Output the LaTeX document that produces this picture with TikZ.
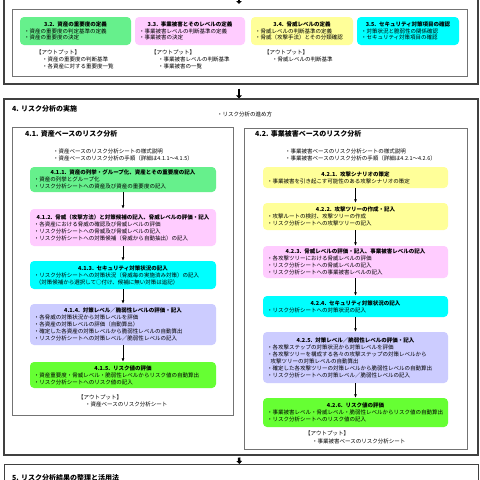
\documentclass[tikz,border=0pt]{standalone}
\usepackage{fontspec}
\setmainfont{Noto Sans CJK JP}
\usetikzlibrary{arrows.meta}
\definecolor{cgreen}{HTML}{66F08C}
\definecolor{cpink}{HTML}{FFCCFF}
\definecolor{cyellow}{HTML}{FFFF99}
\definecolor{ccyan}{HTML}{00FFFF}
\definecolor{clav}{HTML}{CCCCFF}
\definecolor{clime}{HTML}{66FF33}
\newcommand\sttl[1]{{\centering\bfseries #1\par}}
\begin{document}
\begin{tikzpicture}[x=1pt,y=-1pt,
  frame/.style={draw=black!75, line width=1.1pt, fill=white, inner sep=0pt},
  panel/.style={draw=black!55, line width=0.8pt, fill=white, inner sep=0pt},
  stage/.style={rounded corners=4pt, inner xsep=4pt, inner ysep=1pt, align=left, font=\fontsize{5.5}{7}\selectfont},
  stage3/.style={stage, font=\fontsize{5.5}{6.5}\selectfont},
  note/.style={anchor=west, inner sep=0pt, font=\fontsize{5.5}{7}\selectfont},
  head/.style={anchor=west, inner sep=0pt, font=\fontsize{7}{8}\selectfont\bfseries},
  flow/.style={-{Latex[length=3.5pt,width=3pt]}, line width=0.8pt},
  bigflow/.style={-{Triangle[length=3pt,width=5.5pt]}, line width=2.5pt}]
\useasboundingbox (0,0) rectangle (480,480);
\clip (0,0) rectangle (480,480);
% frames
\node[frame, minimum width=474pt, minimum height=94pt] (f3) at (241,37) {};
\node[frame, minimum width=474pt, minimum height=356pt] (f4) at (241,277) {};
\node[frame, minimum width=474pt, minimum height=60pt, anchor=north west] (f5) at (4,464) {};
\coordinate (prev) at (239,-20);
\draw[bigflow] (prev) -- (239,4);
\draw[bigflow] ([xshift=-2pt,yshift=-4pt]f3.south) -- ([xshift=-2pt]f4.north);
\draw[bigflow] ([xshift=-2pt,yshift=-2pt]f4.south) -- ([xshift=-2pt]f5.north);
% section 3
\node[panel, minimum width=455pt, minimum height=67pt, anchor=north west] (p3) at (12,9) {};
\node[stage3, fill=cgreen, text width=103pt, minimum height=28pt] (s32) at (75.5,31)
  {\sttl{3.2. 資産の重要度の定義}・資産の重要度の判定基準の定義\\・資産の重要度の決定};
\node[stage3, fill=cpink, text width=102pt, minimum height=28pt] (s33) at (190,31)
  {\sttl{3.3. 事業被害とそのレベルの定義}・事業被害レベルの判断基準の定義\\・事業被害の決定};
\node[stage3, fill=cyellow, text width=94pt, minimum height=28pt] (s34) at (302,31)
  {\sttl{3.4. 脅威レベルの定義}・脅威レベルの判断基準の定義\\・脅威（攻撃手法）とその分類確認};
\node[stage3, fill=ccyan, text width=94pt, minimum height=28pt] (s35) at (408,31)
  {\sttl{3.5. セキュリティ対策項目の確認}・対策状況と脆弱性の関係確認\\・セキュリティ対策項目の確認};
\node[note] (o32) at (36,52) {【アウトプット】};
\node[note] (o32a) at (42,59) {・資産の重要度の判断基準};
\node[note] (o32b) at (42,66) {・各資産に対する重要度一覧};
\node[note] (o33) at (151,52) {【アウトプット】};
\node[note] (o33a) at (158,59) {・事業被害レベルの判断基準};
\node[note] (o33b) at (158,66) {・事業被害の一覧};
\node[note] (o34) at (264,52) {【アウトプット】};
\node[note] (o34a) at (272,59) {・脅威レベルの判断基準};
% section 4
\node[head] (h4) at (12,109) {4. リスク分析の実施};
\node[note] (h4n) at (217,114) {・リスク分析の進め方};
\node[panel, minimum width=221pt, minimum height=288pt, anchor=north west] (p41) at (12,127) {};
\node[panel, minimum width=223pt, minimum height=321pt, anchor=north west] (p42) at (244,128) {};
\node[head] (h41) at (25,134) {4.1. 資産ベースのリスク分析};
\node[note] (h41a) at (53,151) {・資産ベースのリスク分析シートの様式説明};
\node[note] (h41b) at (53,158) {・資産ベースのリスク分析の手順（詳細は4.1.1～4.1.5）};
\node[head] (h42) at (255,134) {4.2. 事業被害ベースのリスク分析};
\node[note] (h42a) at (285,151) {・事業被害ベースのリスク分析シートの様式説明};
\node[note] (h42b) at (285,158) {・事業被害ベースのリスク分析の手順（詳細は4.2.1～4.2.6）};
% 4.1 stages
\node[stage, fill=cgreen, text width=178pt, minimum height=25pt] (s411) at (123,179.5)
  {\sttl{4.1.1. 資産の列挙・グループ化、資産とその重要度の記入}・資産の列挙とグループ化\\・リスク分析シートへの資産及び資産の重要度の記入};
\node[stage, fill=cpink, text width=178pt, minimum height=37pt] (s412) at (123,227.5)
  {\sttl{4.1.2. 脅威（攻撃方法）と対策候補の記入、脅威レベルの評価・記入}・各資産における脅威の確認及び脅威レベルの評価\\・リスク分析シートへの脅威及び脅威レベルの記入\\・リスク分析シートへの対策候補（脅威から自動抽出）の記入};
\node[stage, fill=ccyan, text width=178pt, minimum height=28pt] (s413) at (123,275)
  {\sttl{4.1.3. セキュリティ対策状況の記入}・リスク分析シートへの対策状況（脅威毎の実施済み対策）の記入\\\ （対策候補から選択して○付け、候補に無い対策は追記）};
\node[stage, fill=clav, text width=178pt, minimum height=41pt] (s414) at (123,324.5)
  {\sttl{4.1.4. 対策レベル／脆弱性レベルの評価・記入}・各脅威の対策状況から対策レベルを評価\\・各資産の対策レベルの評価（自動算出）\\・確定した各資産の対策レベルから脆弱性レベルの自動算出\\・リスク分析シートへの対策レベル／脆弱性レベルの記入};
\node[stage, fill=clime, text width=178pt, minimum height=26pt] (s415) at (123,375)
  {\sttl{4.1.5. リスク値の評価}・資産重要度・脅威レベル・脆弱性レベルからリスク値の自動算出\\・リスク分析シートへのリスク値の記入};
\node[note] (o41) at (78,397) {【アウトプット】};
\node[note] (o41a) at (85,404) {・資産ベースのリスク分析シート};
% 4.2 stages
\node[stage, fill=cyellow, text width=177pt, minimum height=21pt] (s421) at (355.5,177.5)
  {\sttl{4.2.1. 攻撃シナリオの策定}・事業被害を引き起こす可能性のある攻撃シナリオの策定};
\node[stage, fill=cyellow, text width=177pt, minimum height=27pt] (s422) at (355.5,216.5)
  {\sttl{4.2.2. 攻撃ツリーの作成・記入}・攻撃ルートの検討、攻撃ツリーの作成\\・リスク分析シートへの攻撃ツリーの記入};
\node[stage, fill=cpink, text width=177pt, minimum height=32pt] (s423) at (355.5,262)
  {\sttl{4.2.3. 脅威レベルの評価・記入、事業被害レベルの記入}・各攻撃ツリーにおける脅威レベルの評価\\・リスク分析シートへの脅威レベルの記入\\・リスク分析シートへの事業被害レベルの記入};
\node[stage, fill=ccyan, text width=177pt, minimum height=21pt] (s424) at (355.5,306.5)
  {\sttl{4.2.4. セキュリティ対策状況の記入}・リスク分析シートへの対策状況の記入};
\node[stage, fill=clav, text width=177pt, minimum height=51pt] (s425) at (355.5,357.5)
  {\sttl{4.2.5. 対策レベル／脆弱性レベルの評価・記入}・各攻撃ステップの対策状況から対策レベルを評価\\・各攻撃ツリーを構成する各々の攻撃ステップの対策レベルから\\\ \ 攻撃ツリーの対策レベルの自動算出\\・確定した各攻撃ツリーの対策レベルから脆弱性レベルの自動算出\\・リスク分析シートへの対策レベル／脆弱性レベルの記入};
\node[stage, fill=clime, text width=177pt, minimum height=29pt] (s426) at (355.5,412.5)
  {\sttl{4.2.6. リスク値の評価}・事業被害レベル・脅威レベル・脆弱性レベルからリスク値の自動算出\\・リスク分析シートへのリスク値の記入};
\node[note] (o42) at (305,433) {【アウトプット】};
\node[note] (o42a) at (312,441) {・事業被害ベースのリスク分析シート};
% flows
\draw[flow] (s411) -- (s412);
\draw[flow] (s412) -- (s413);
\draw[flow] (s413) -- (s414);
\draw[flow] (s414) -- (s415);
\draw[flow] (s421) -- (s422);
\draw[flow] (s422) -- (s423);
\draw[flow] (s423) -- (s424);
\draw[flow] (s424) -- (s425);
\draw[flow] (s425) -- (s426);
% section 5
\node[head] (h5) at (12,478) {5. リスク分析結果の整理と活用法};
\end{tikzpicture}
\end{document}
